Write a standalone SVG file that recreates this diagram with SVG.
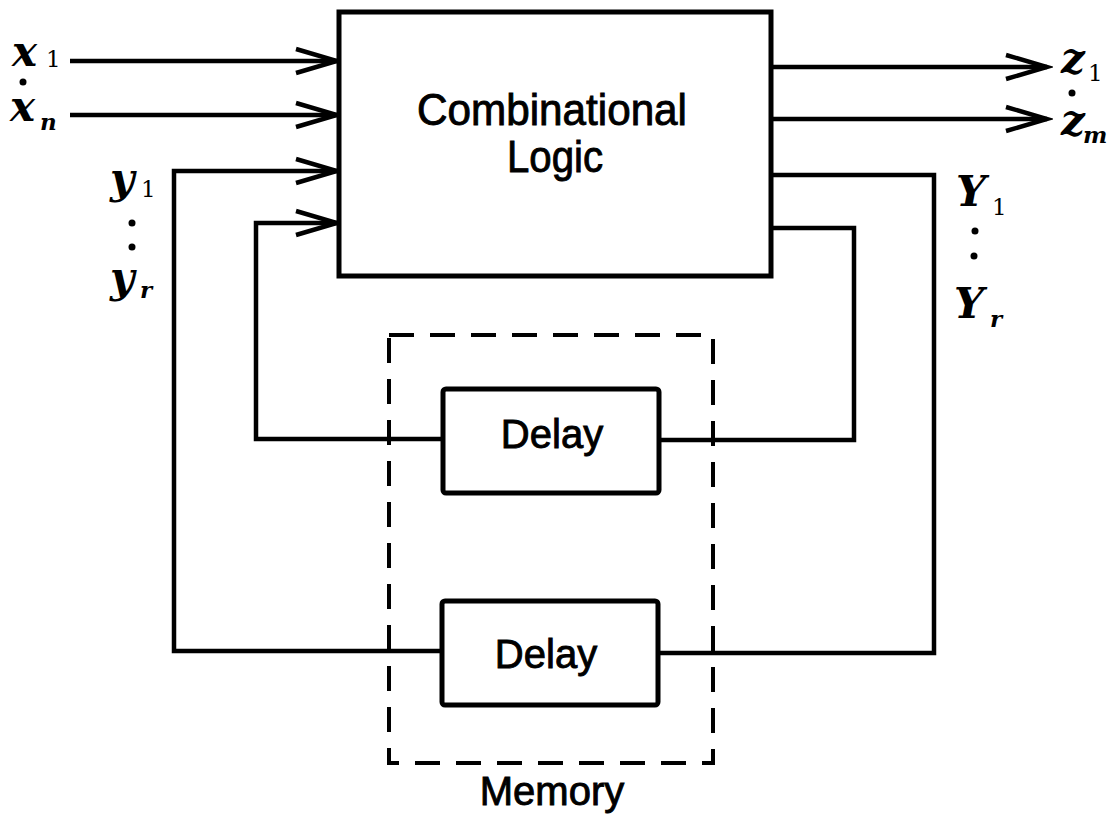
<svg xmlns="http://www.w3.org/2000/svg" width="1117" height="819" viewBox="0 0 1117 819">
  <style>
    .box { fill: #fff; stroke: #000; stroke-width: 5; }
    .wire { fill: none; stroke: #000; stroke-width: 4.5; stroke-linejoin: miter; }
    .memory { fill: none; stroke: #000; stroke-width: 4; stroke-dasharray: 25 16; }
    .label { font-family: "Liberation Sans", Arial, sans-serif; fill: #000; stroke: #000; stroke-width: 0.9; text-anchor: middle; }
    .math { font-family: "DejaVu Serif", "Liberation Serif", serif; font-style: italic; font-weight: bold; fill: #000; font-size: 42px; }
    .sub { font-size: 23px; }
    .up { font-style: normal; font-weight: normal; }
    .dot { fill: #000; }
  </style>
  <defs>
    <marker id="chevron" markerUnits="userSpaceOnUse" markerWidth="50" markerHeight="32" viewBox="-44 -16 50 32" refX="0" refY="0" orient="auto">
      <path d="M -41 -12 L 0 0 L -41 12" fill="none" stroke="#000" stroke-width="4.5"/>
    </marker>
  </defs>

  <!-- memory enclosure -->
  <g id="memory">
    <rect class="memory" x="389" y="335" width="324" height="428"/>
    <text class="label" x="552" y="805" font-size="40">Memory</text>
  </g>

  <!-- feedback and signal wires -->
  <g id="connectors">
    <path class="wire" d="M 70 61 H 337" marker-end="url(#chevron)"/>
    <path class="wire" d="M 70 115 H 337" marker-end="url(#chevron)"/>
    <path class="wire" d="M 442 651 H 174 V 171 H 337" marker-end="url(#chevron)"/>
    <path class="wire" d="M 443 439 H 256 V 223 H 337" marker-end="url(#chevron)"/>
    <path class="wire" d="M 771 67 H 1047" marker-end="url(#chevron)"/>
    <path class="wire" d="M 771 119 H 1047" marker-end="url(#chevron)"/>
    <path class="wire" d="M 771 175 H 934 V 653 H 658"/>
    <path class="wire" d="M 771 228 H 854 V 440 H 659"/>
  </g>

  <g id="logic">
    <rect class="box" x="339" y="12" width="432" height="264"/>
    <text class="label" x="552" y="125" font-size="44" textLength="270" lengthAdjust="spacingAndGlyphs">Combinational</text>
    <text class="label" x="555" y="172" font-size="44" textLength="96" lengthAdjust="spacingAndGlyphs">Logic</text>
  </g>

  <g id="delay1">
    <rect class="box" x="443" y="389" width="216" height="104" rx="3"/>
    <text class="label" x="552" y="448" font-size="40">Delay</text>
  </g>

  <g id="delay2">
    <rect class="box" x="442" y="601" width="216" height="104" rx="3"/>
    <text class="label" x="546" y="668" font-size="40">Delay</text>
  </g>

  <!-- input labels -->
  <g id="inputs">
    <text class="math" x="12" y="66">x<tspan class="sub up" x="46" y="67">1</tspan></text>
    <circle class="dot" cx="23" cy="82" r="3.5"/>
    <text class="math" x="10" y="121">x<tspan class="sub" x="40" y="130">n</tspan></text>
  </g>

  <!-- present-state labels -->
  <g id="present-state">
    <text class="math" x="110" y="193">y<tspan class="sub up" x="141" y="197">1</tspan></text>
    <circle class="dot" cx="132" cy="223" r="3.5"/>
    <circle class="dot" cx="132" cy="247" r="3.5"/>
    <text class="math" x="110" y="292">y<tspan class="sub" x="140" y="298">r</tspan></text>
  </g>

  <!-- next-state labels -->
  <g id="next-state">
    <text class="math" x="956" y="206">Y<tspan class="sub up" x="992" y="215">1</tspan></text>
    <circle class="dot" cx="975" cy="231" r="3.5"/>
    <circle class="dot" cx="974" cy="256" r="3.5"/>
    <text class="math" x="954" y="318">Y<tspan class="sub" x="990" y="327">r</tspan></text>
  </g>

  <!-- output labels -->
  <g id="outputs">
    <text class="math" x="1061" y="73">z<tspan class="sub up" x="1088" y="81">1</tspan></text>
    <circle class="dot" cx="1072" cy="93" r="3.5"/>
    <text class="math" x="1061" y="135">z<tspan class="sub" x="1083" y="143">m</tspan></text>
  </g>
</svg>
